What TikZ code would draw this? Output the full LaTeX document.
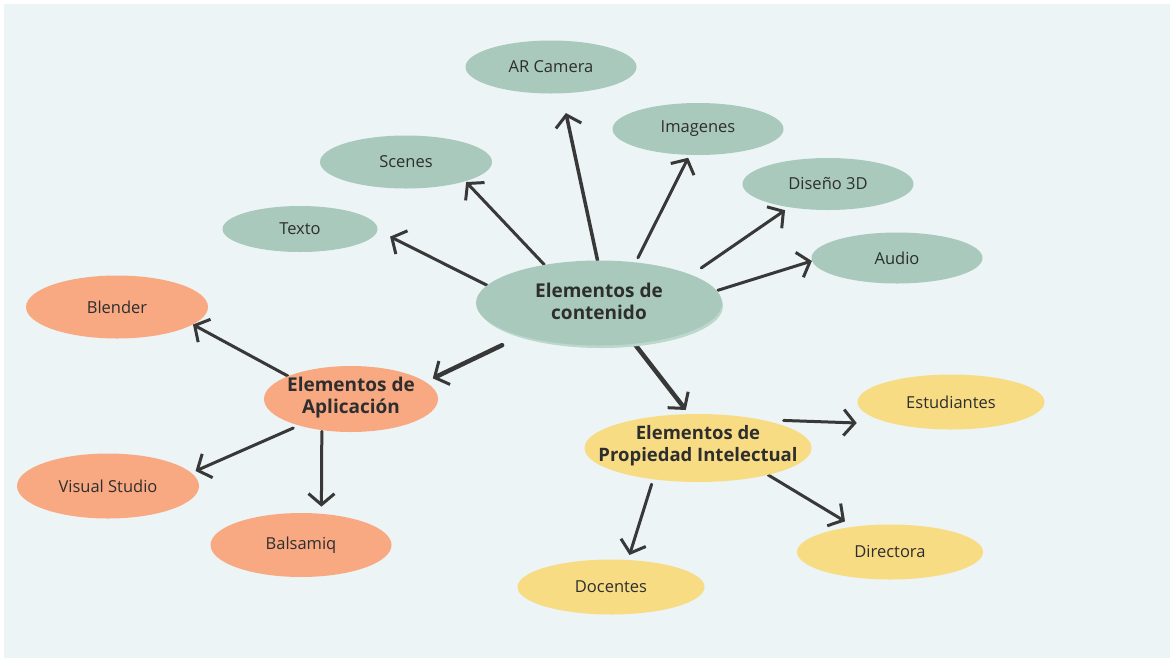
\documentclass[tikz,border=0pt]{standalone}
\usepackage{fontspec}
\setmainfont{Open Sans}
\usetikzlibrary{arrows.meta,shapes.geometric}
\pgfdeclarelayer{bg}
\pgfdeclarelayer{arr}
\pgfsetlayers{bg,arr,main}
\definecolor{bgc}{HTML}{ECF4F6}
\definecolor{gr}{HTML}{A8C9BB}
\definecolor{grl}{HTML}{BCD8CC}
\definecolor{og}{HTML}{F8A982}
\definecolor{yl}{HTML}{F7DC84}
\definecolor{ink}{HTML}{383838}
\definecolor{txt}{HTML}{2E2E2E}
\tikzset{
  blob/.style={ellipse, inner sep=0pt, draw=none},
  gblob/.style={blob, fill=gr},
  oblob/.style={blob, fill=og},
  yblob/.style={blob, fill=yl},
  leaf/.style={text=txt, font=\fontsize{16.5}{19}\selectfont, inner sep=0pt},
  hub/.style={text=txt, font=\fontsize{19}{22}\selectfont\bfseries, align=center, inner sep=0pt},
  arr/.style={draw=ink, line width=3pt, line cap=round, -{Straight Barb[length=11pt,width=26pt,line width=3pt]}},
  arrthick/.style={arr, line width=4.5pt},
}
\begin{document}
\begin{tikzpicture}[x=1pt,y=-1pt]
\useasboundingbox (0,0) rectangle (1174,662);
\begin{pgfonlayer}{bg}
\fill[white] (0,0) rectangle (1174,662);
\fill[bgc] (4,4) rectangle (1170,658);
\end{pgfonlayer}

% central
\node[blob, fill=grl, minimum width=244pt, minimum height=84pt] (cs) at (601,306) {};
\node[gblob, minimum width=246pt, minimum height=85pt] (c) at (599,303) {};
\node[hub] (cT) at (599,301) {Elementos de\\contenido};

% green leaves
\node[gblob, minimum width=171pt, minimum height=53pt] (ar) at (551,67) {};
\node[leaf] (arT) at (ar) {AR Camera};
\node[gblob, minimum width=171pt, minimum height=52pt] (im) at (698,129) {};
\node[leaf] (imT) at (im) {Imagenes};
\node[gblob, minimum width=172pt, minimum height=53pt] (sc) at (406,162) {};
\node[leaf] (scT) at (sc) {Scenes};
\node[gblob, minimum width=171pt, minimum height=52pt] (d3) at (828,184) {};
\node[leaf] (d3T) at (d3) {Diseño 3D};
\node[gblob, minimum width=155pt, minimum height=46pt] (tx) at (300,229) {};
\node[leaf] (txT) at (tx) {Texto};
\node[gblob, minimum width=171pt, minimum height=51pt] (au) at (897,258) {};
\node[leaf] (auT) at (au) {Audio};

% application
\node[oblob, minimum width=174pt, minimum height=66pt] (ap) at (351,399) {};
\node[hub] (apT) at (351,398) {Elementos de\\Aplicación};
\node[oblob, minimum width=182pt, minimum height=63pt] (bl) at (117,307) {};
\node[leaf] (blT) at (bl) {Blender};
\node[oblob, minimum width=182pt, minimum height=65pt] (vs) at (108,486) {};
\node[leaf] (vsT) at (vs) {Visual Studio};
\node[oblob, minimum width=181pt, minimum height=64pt] (bq) at (301,545) {};
\node[leaf] (bqT) at (bq) {Balsamiq};

% intellectual property
\node[yblob, minimum width=227pt, minimum height=68pt] (pi) at (698,448) {};
\node[hub, font=\fontsize{18.5}{22}\selectfont\bfseries] (piT) at (698,446) {Elementos de\\Propiedad Intelectual};
\node[yblob, minimum width=187pt, minimum height=55pt] (es) at (951,402) {};
\node[leaf] (esT) at (es) {Estudiantes};
\node[yblob, minimum width=187pt, minimum height=55pt] (dc) at (611,587) {};
\node[leaf] (dcT) at (dc) {Docentes};
\node[yblob, minimum width=186pt, minimum height=55pt] (di) at (890,552) {};
\node[leaf] (diT) at (di) {Directora};

\begin{pgfonlayer}{arr}
\draw[arr, line width=3.5pt] (c.92) -- (ar.-68) [shorten >=20pt];
\draw[arr, shorten <=5pt, shorten >=3pt] (c.48) -- (im.-108);
\draw[arr, shorten >=1pt] (c.145) -- (sc.-18);
\draw[arr, shorten >=14pt] (c.171) -- (tx.-1);
\draw[arr, shorten <=12pt, shorten >=5pt] (c.17) -- (d3.-149);
\draw[arr, shorten <=1pt] (c.6) -- (au.-178);
\draw[arrthick, shorten <=21pt, shorten >=8pt] (c.-157) -- (ap.13);
\draw[arrthick, shorten <=1.5pt, shorten >=5pt] (c.-49) -- (pi.105);
\draw[arr] (ap.160) -- (bl.-13);
\draw[arr, shorten <=6pt, shorten >=4.5pt] (ap.-153) -- (vs.9);
\draw[arr, shorten <=1pt, shorten >=7pt] (ap.-133) -- (bq.57);
\draw[arr, shorten <=22pt, shorten >=39pt] (pi.24) -- (es.-158);
\draw[arr, shorten <=5pt, shorten >=5pt] (pi.-145) -- (dc.58);
\draw[arr, shorten >=10pt] (pi.-21) -- (di.145);
\end{pgfonlayer}
\end{tikzpicture}
\end{document}
